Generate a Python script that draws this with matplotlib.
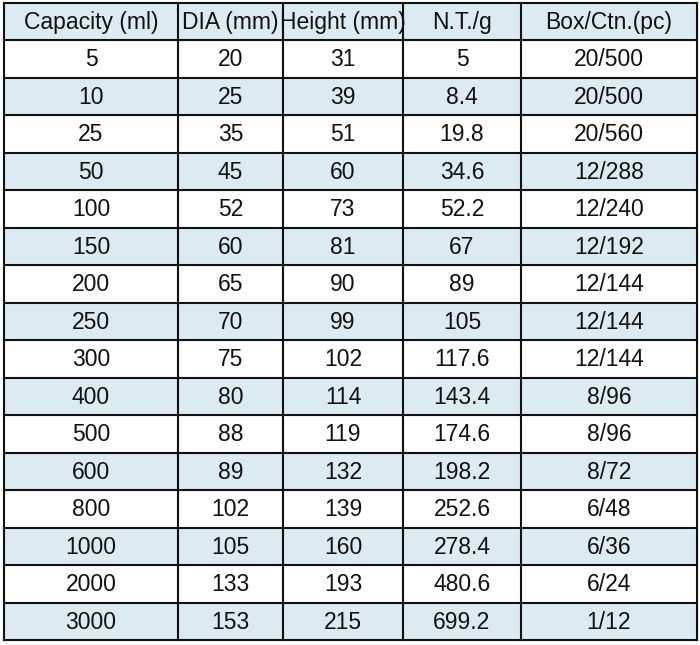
import matplotlib
matplotlib.use("Agg")
import matplotlib.pyplot as plt
from matplotlib.patches import Rectangle

headers = ["Capacity (ml)", "DIA (mm)", "Height (mm)", "N.T./g", "Box/Ctn.(pc)"]
capacity = ["5", "10", "25", "50", "100", "150", "200", "250", "300", "400", "500", "600", "800", "1000", "2000", "3000"]
dia = ["20", "25", "35", "45", "52", "60", "65", "70", "75", "80", "88", "89", "102", "105", "133", "153"]
height = ["31", "39", "51", "60", "73", "81", "90", "99", "102", "114", "119", "132", "139", "160", "193", "215"]
nt = ["5", "8.4", "19.8", "34.6", "52.2", "67", "89", "105", "117.6", "143.4", "174.6", "198.2", "252.6", "278.4", "480.6", "699.2"]
box = ["20/500", "20/500", "20/560", "12/288", "12/240", "12/192", "12/144", "12/144", "12/144", "8/96", "8/96", "8/72", "6/48", "6/36", "6/24", "1/12"]

W, H = 700, 645
fig = plt.figure(figsize=(7, 6.45), dpi=100)
ax = fig.add_axes([0, 0, 1, 1])
ax.set_xlim(0, W)
ax.set_ylim(H, 0)
ax.axis("off")

xs = [4, 178, 283, 403, 521, 697]
top, hdr_bot, bottom = 3, 40, 640
n = len(capacity)
rh = (bottom - hdr_bot) / n
ys = [top, hdr_bot] + [hdr_bot + rh * (i + 1) for i in range(n)]
blue = "#dceaf1"
cols = [capacity, dia, height, nt, box]
rows = [headers] + [[c[i] for c in cols] for i in range(n)]

for r, row in enumerate(rows):
    y0, y1 = ys[r], ys[r + 1]
    if r % 2 == 0:
        ax.add_patch(Rectangle((xs[0], y0), xs[-1] - xs[0], y1 - y0, color=blue, zorder=0))
    for c, txt in enumerate(row):
        ax.text((xs[c] + xs[c + 1]) / 2, (y0 + y1) / 2 + 1, txt, ha="center", va="center",
                fontsize=16.5, family="Liberation Sans", color="#111111")
for y in ys:
    ax.plot([xs[0], xs[-1]], [y, y], color="#111111", lw=1.5)
for x in xs:
    ax.plot([x, x], [top, bottom], color="#111111", lw=1.5)

fig.savefig("out.png", dpi=100, facecolor="white")
